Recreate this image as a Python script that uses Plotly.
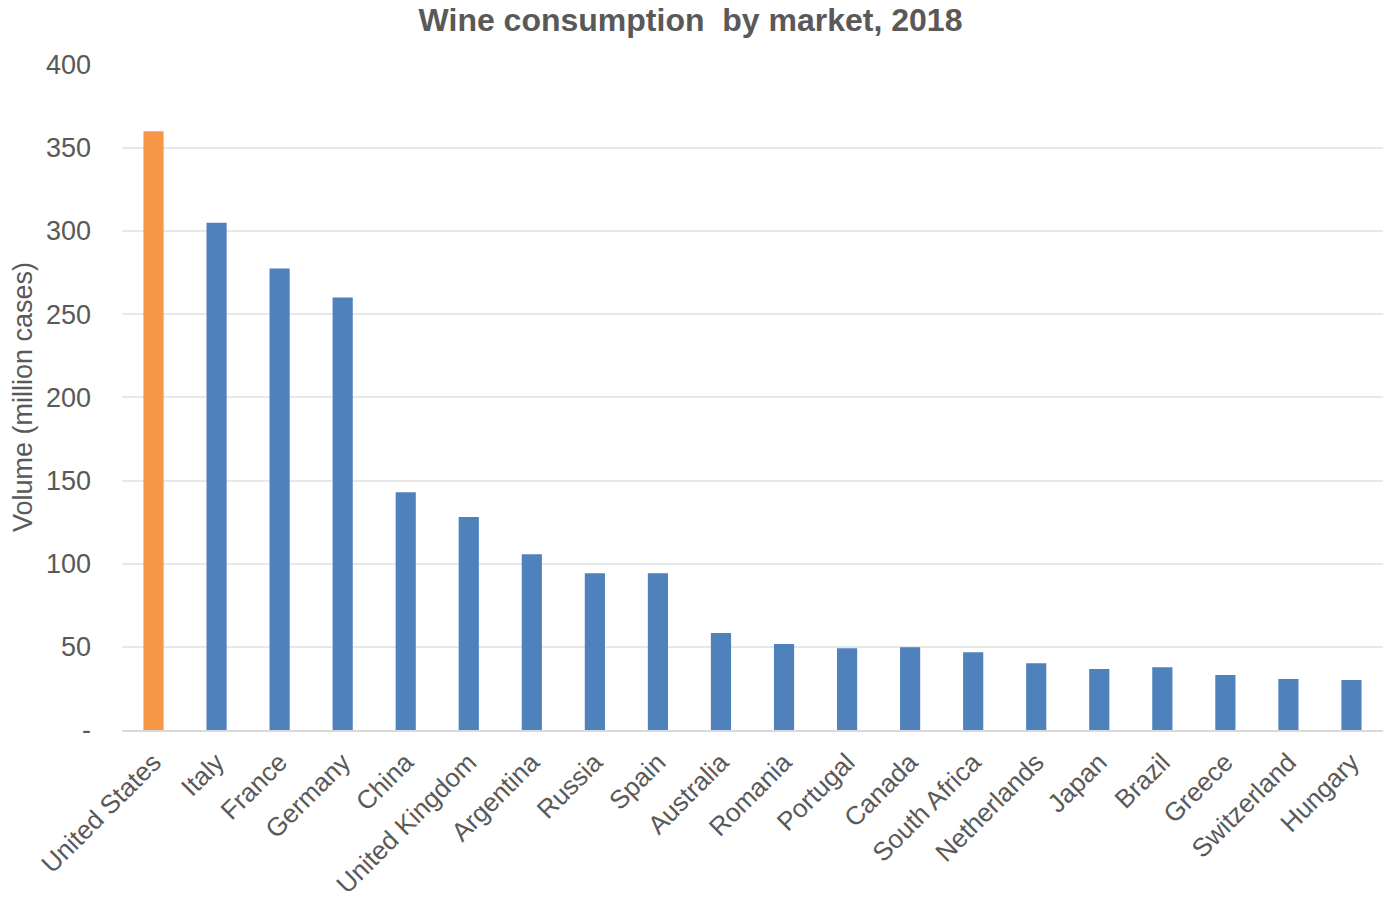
import plotly.graph_objects as go

markets = ["United States", "Italy", "France", "Germany", "China", "United Kingdom",
           "Argentina", "Russia", "Spain", "Australia", "Romania", "Portugal", "Canada",
           "South Africa", "Netherlands", "Japan", "Brazil", "Greece", "Switzerland", "Hungary"]
volumes = [360, 305, 277.5, 260, 143, 128, 105.7, 94.3, 94.3, 58.3, 51.7, 49.2, 49.8,
           46.8, 40.2, 36.6, 37.8, 33, 30.6, 30]
highlight = "United States"
y_tickvals = [0, 50, 100, 150, 200, 250, 300, 350, 400]
y_ticktext = ["-", "50", "100", "150", "200", "250", "300", "350", "400"]

colors = ["#F79646" if m == highlight else "#4F81BD" for m in markets]

fig = go.Figure(go.Bar(x=markets, y=volumes, marker=dict(color=colors, line=dict(width=0)),
                       width=0.32))

font_family = "Liberation Sans, Arial, sans-serif"
W, H = 1383, 902
fig.update_layout(
    width=W, height=H,
    paper_bgcolor="white", plot_bgcolor="white",
    margin=dict(l=122, r=0, t=64, b=172, autoexpand=False),
    title=dict(text="<b>Wine consumption  by market, 2018</b>", x=690.5 / W, xanchor="center",
               y=1 - 20 / H, yanchor="middle", yref="container",
               font=dict(family=font_family, size=32, color="#595959")),
    font=dict(family=font_family, color="#595959"),
    showlegend=False,
)
fig.update_xaxes(tickangle=-45, tickfont=dict(size=26, color="#595959"),
                 showgrid=False, showline=True, linecolor="#d9d9d9", linewidth=1.5,
                 ticks="", ticklen=0, ticklabelstandoff=5, automargin=False)
fig.update_yaxes(range=[0, 400.4], tickvals=y_tickvals, ticktext=y_ticktext,
                 tickfont=dict(size=27, color="#595959"),
                 showgrid=True, gridcolor="#e8e8e8", gridwidth=1.5, zeroline=False,
                 ticklabelstandoff=30, automargin=False,
                 title=dict(text="Volume (million cases)", standoff=5,
                            font=dict(size=27, color="#595959")))

fig.write_html("out.html", config={"displayModeBar": False},
               post_script="document.body.style.margin='0';")
